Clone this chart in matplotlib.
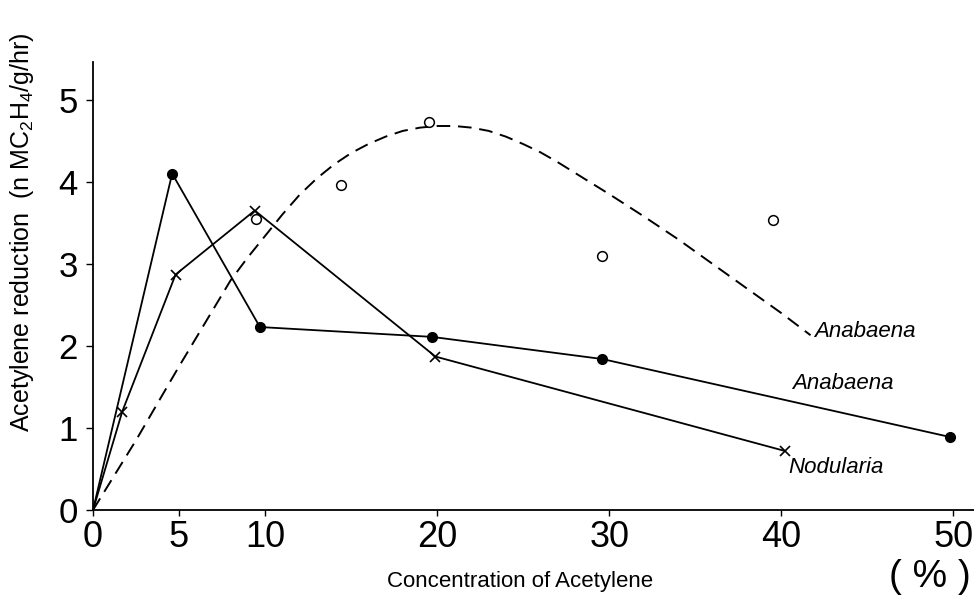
import numpy as np
import matplotlib
matplotlib.use("Agg")
import matplotlib.pyplot as plt

plt.rcParams['font.family'] = ['Liberation Sans', 'DejaVu Sans']
plt.rcParams['mathtext.fontset'] = 'custom'
plt.rcParams['mathtext.rm'] = 'Liberation Sans'

# Anabaena (filled circles, solid line)
ana_x = [0, 4.6, 9.7, 19.7, 29.6, 49.8]
ana_y = [0, 4.10, 2.23, 2.11, 1.84, 0.89]

# Nodularia (crosses, solid line)
nod_x = [0, 1.7, 4.8, 9.4, 19.9, 40.2]
nod_y = [0, 1.20, 2.87, 3.65, 1.87, 0.72]

# Anabaena (open circles) and its dashed curve
open_x = [9.5, 14.4, 19.5, 29.6, 39.5]
open_y = [3.55, 3.96, 4.73, 3.10, 3.54]
curve_x = [0, 2.5, 5, 8, 9, 10, 11, 12, 13, 14, 15, 16, 17, 18, 19, 20, 21, 22, 23, 24, 25,
           26, 27, 28, 30, 32, 34, 36, 38, 40, 41.7]
curve_y = [0, 0.85, 1.75, 2.8, 3.08, 3.34, 3.6, 3.84, 4.04, 4.21, 4.35, 4.46, 4.55, 4.62, 4.66,
           4.68, 4.68, 4.66, 4.62, 4.55, 4.46, 4.36, 4.24, 4.11, 3.85, 3.58, 3.3, 3.0, 2.7, 2.4, 2.13]

xticks = [0, 5, 10, 20, 30, 40, 50]
yticks = [0, 1, 2, 3, 4, 5]

fig = plt.figure(figsize=(9.74, 6.04), dpi=100)
ax = fig.add_axes([93/974, 1-510/604, 1-93/974, 448/604])

ax.plot(curve_x, curve_y, color='black', lw=1.4, dashes=(7, 4))
ax.plot(ana_x, ana_y, color='black', lw=1.3, marker='o', ms=7, markevery=list(range(1, len(ana_x))))
ax.plot(nod_x, nod_y, color='black', lw=1.3, marker='x', ms=7, mew=1.2, markevery=list(range(1, len(nod_x))))
ax.plot(open_x, open_y, ls='none', marker='o', ms=7, mfc='white', mec='black', mew=1.1)

ax.set_xlim(0, 51.2)
ax.set_ylim(0, 5.46)
ax.set_xticks(xticks)
ax.set_yticks(yticks)
ax.tick_params(axis='x', labelsize=26, length=4, width=1, direction='out', pad=3)
ax.tick_params(axis='y', labelsize=25, length=5, width=1, direction='out', pad=6)
for s in ['top', 'right']:
    ax.spines[s].set_visible(False)
for s in ['left', 'bottom']:
    ax.spines[s].set_linewidth(1.3)

ax.text(41.9, 2.18, 'Anabaena', style='italic', fontsize=16, va='center')
ax.text(40.6, 1.54, 'Anabaena', style='italic', fontsize=16, va='center')
ax.text(40.4, 0.52, 'Nodularia', style='italic', fontsize=16, va='center')

fig.text(520/974, 1-582/604, 'Concentration of Acetylene', fontsize=16, ha='center', va='center')
fig.text(930/974, 1-577/604, '( % )', fontsize=28, ha='center', va='center')
fig.text(22/974, 1-232/604, r'Acetylene reduction  (n MC$_\mathregular{2}$H$_\mathregular{4}$/g/hr)',
         fontsize=18, rotation=90, ha='center', va='center')

fig.savefig('out.png', dpi=100)
